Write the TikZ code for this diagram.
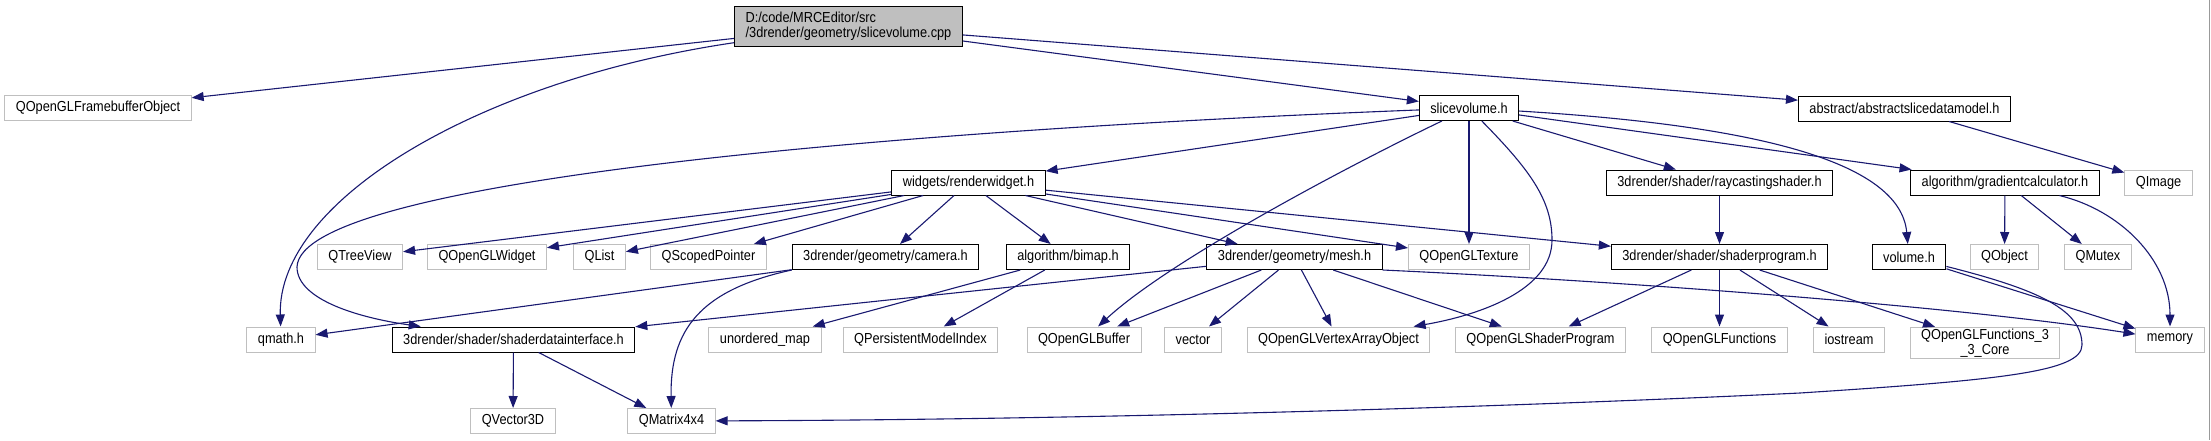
\documentclass[tikz,border=0pt]{standalone}
\usepackage{fontspec}
\setmainfont{Liberation Sans}[FakeStretch=0.88]
\usetikzlibrary{arrows.meta}
\definecolor{edgeblue}{HTML}{191970}
\definecolor{boxgray}{HTML}{BFBFBF}
\begin{document}
\begin{tikzpicture}[x=1pt,y=-1pt,
  hdr/.style={draw=black,line width=1pt,fill=white,inner xsep=11pt,inner ysep=1.5pt,
    minimum height=25pt,align=center,font=\fontsize{14.5pt}{15pt}\selectfont},
  sys/.style={hdr,draw=boxgray},
  dep/.style={draw=edgeblue,line width=1.1pt,-{Triangle[length=12pt,width=9pt]}}]
\useasboundingbox (0,0) rectangle (2211,440);
\draw[boxgray!80!black,line width=1.2pt] (2209.5,0) -- (2209.5,440);
\node[hdr,fill=boxgray,align=left,minimum height=40pt] (cpp) at (848.5,26)
  {D:/code/MRCEditor/src\\/3drender/geometry/slicevolume.cpp};
\node[sys] (qfbo) at (98,108) {QOpenGLFramebufferObject};
\node[hdr] (slicevol) at (1469,108) {slicevolume.h};
\node[hdr] (absmodel) at (1904.5,108.5) {abstract/abstractslicedatamodel.h};
\node[hdr] (rwidget) at (968.5,182.5) {widgets/renderwidget.h};
\node[hdr] (rcshader) at (1719.5,182.5) {3drender/shader/raycastingshader.h};
\node[hdr] (gradcalc) at (2005,182.5) {algorithm/gradientcalculator.h};
\node[sys] (qimage) at (2158.5,182.5) {QImage};
\node[sys] (qtree) at (360,257) {QTreeView};
\node[sys] (qglwidget) at (487,257) {QOpenGLWidget};
\node[sys] (qlist) at (599.5,257) {QList};
\node[sys] (qscoped) at (708.5,257) {QScopedPointer};
\node[hdr] (camera) at (885.5,257) {3drender/geometry/camera.h};
\node[hdr] (bimap) at (1068,257) {algorithm/bimap.h};
\node[hdr] (mesh) at (1294.5,257) {3drender/geometry/mesh.h};
\node[sys] (qgltex) at (1469,257) {QOpenGLTexture};
\node[hdr] (shprog) at (1719.5,257) {3drender/shader/shaderprogram.h};
\node[hdr] (volh) at (1909,257) {volume.h};
\node[sys] (qobject) at (2004.5,257) {QObject};
\node[sys] (qmutex) at (2098,257) {QMutex};
\node[sys] (qmath) at (281,339.5) {qmath.h};
\node[hdr] (sdi) at (513.5,339.5) {3drender/shader/shaderdatainterface.h};
\node[sys] (umap) at (765,339.5) {unordered\_map};
\node[sys] (qpmi) at (920.5,339.5) {QPersistentModelIndex};
\node[sys] (qglbuf) at (1084,339.5) {QOpenGLBuffer};
\node[sys] (vector) at (1193,339.5) {vector};
\node[sys] (qglvao) at (1338.5,339.5) {QOpenGLVertexArrayObject};
\node[sys] (qglshprog) at (1540.5,339.5) {QOpenGLShaderProgram};
\node[sys] (qglfunc) at (1719.5,339.5) {QOpenGLFunctions};
\node[sys] (iostream) at (1849,339.5) {iostream};
\node[sys] (qglf33) at (1985,343) {QOpenGLFunctions\_3\\\_3\_Core};
\node[sys] (memory) at (2170,339.5) {memory};
\node[sys] (qvec3) at (513,421) {QVector3D};
\node[sys] (qmat) at (671.5,421) {QMatrix4x4};
\foreach \a/\b in {cpp/qfbo,cpp/slicevol,cpp/absmodel,
  slicevol/rwidget,slicevol/qgltex,slicevol/rcshader,slicevol/gradcalc,absmodel/qimage,
  rwidget/qtree,rwidget/qglwidget,rwidget/qlist,rwidget/qscoped,rwidget/camera,
  rwidget/bimap,rwidget/mesh,rwidget/qgltex,rwidget/shprog,rcshader/shprog,
  gradcalc/qobject,gradcalc/qmutex,camera/qmath,bimap/umap,bimap/qpmi,
  mesh/sdi,mesh/qglbuf,mesh/vector,mesh/qglvao,mesh/qglshprog,
  shprog/qglshprog,shprog/qglfunc,shprog/iostream,shprog/qglf33,
  volh/memory,sdi/qvec3,sdi/qmat}{
  \draw[dep] (\a) -- (\b);
}
\draw[dep] (cpp) .. controls (480,80) and (277,200) .. (qmath);
\draw[dep] (slicevol) .. controls (900,130) and (300,180) .. (297,267)
  .. controls (297,300) and (360,318) .. (sdi);
\draw[dep] (slicevol) .. controls (1350,165) and (1170,260) .. (qglbuf);
\draw[dep] (slicevol) .. controls (1530,170) and (1552,200) .. (1552,240)
  .. controls (1552,290) and (1480,315) .. (qglvao);
\draw[dep] (slicevol) .. controls (1750,125) and (1900,160) .. (volh);
\draw[dep] (gradcalc) .. controls (2120,210) and (2170,260) .. (memory);
\draw[dep] (mesh.south east) .. controls (1600,280) and (1950,305) .. (memory);
\draw[dep] (camera.south west) .. controls (700,290) and (670,330) .. (qmat);
\draw[dep] (volh) .. controls (2040,290) and (2082,310) .. (2082,345)
  .. controls (2082,372) and (2000,380) .. (1800,393)
  .. controls (1400,412) and (1000,420) .. (qmat);
\end{tikzpicture}
\end{document}
